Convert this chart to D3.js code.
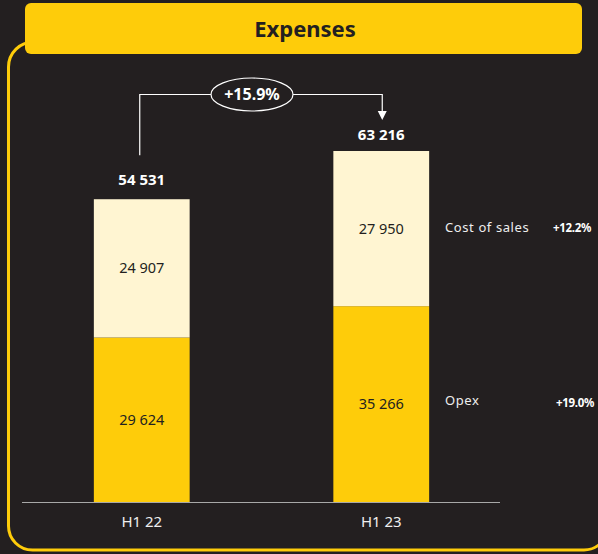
<!DOCTYPE html>
<html>
<head>
<meta charset="utf-8">
<script src="https://cdn.jsdelivr.net/npm/d3@7"></script>
<style>
  html, body { margin: 0; padding: 0; background: #231f20; }
  svg { display: block; font-family: "Noto Sans", Lato, sans-serif; }
</style>
</head>
<body>
<div id="chart"></div>
<script>
var periods = ["H1 22", "H1 23"];
var opex = [29624, 35266];
var costOfSales = [24907, 27950];
var seriesNames = ["Opex", "Cost of sales"];
var seriesGrowth = ["+19.0%", "+12.2%"];
var totalGrowth = "+15.9%";

var width = 598, height = 554;
var yellow = "#fecc0a", cream = "#fff5d2", bg = "#231f20";

var svg = d3.select("#chart")
    .append("svg")
    .attr("width", width)
    .attr("height", height);

svg.append("rect")
    .attr("width", width)
    .attr("height", height)
    .attr("fill", bg);

// yellow frame: left, bottom and the start of the right corner
svg.append("path")
    .attr("d", "M34,42A25,25 0 0 0 8.5,67V526A24,24 0 0 0 32.5,550H584A24,24 0 0 0 608,526")
    .attr("fill", "none")
    .attr("stroke", yellow)
    .attr("stroke-width", 3);

// title box
svg.append("rect")
    .attr("x", 25)
    .attr("y", 3)
    .attr("width", 557)
    .attr("height", 51)
    .attr("rx", 6)
    .attr("fill", yellow);

svg.append("text")
    .attr("x", 305)
    .attr("y", 37)
    .attr("text-anchor", "middle")
    .attr("font-size", 22)
    .attr("font-weight", "bold")
    .attr("fill", bg)
    .text("Expenses");

// data table for the stack
var table = periods.map(function(p, i) {
    return {period: p, opex: opex[i], cos: costOfSales[i]};
});
var stack = d3.stack().keys(["opex", "cos"])(table);
var totals = table.map(function(d) { return d.opex + d.cos; });

var x = d3.scaleBand()
    .domain(periods)
    .range([22, 501])
    .paddingInner(0.6)
    .paddingOuter(0.3);

var y = d3.scaleLinear()
    .domain([0, d3.max(totals)])
    .range([502, 151]);

var fmt = function(v) { return d3.format(",")(v).replace(/,/g, " "); };
var colors = [yellow, cream];

// bars
var layer = svg.selectAll(".layer")
    .data(stack)
    .enter()
    .append("g")
    .attr("class", "layer")
    .attr("fill", function(d, i) { return colors[i]; });

layer.selectAll("rect")
    .data(function(d) { return d; })
    .enter()
    .append("rect")
    .attr("x", function(d) { return x(d.data.period); })
    .attr("y", function(d) { return y(d[1]); })
    .attr("width", x.bandwidth())
    .attr("height", function(d) { return y(d[0]) - y(d[1]); });

layer.selectAll("text")
    .data(function(d) { return d; })
    .enter()
    .append("text")
    .attr("x", function(d) { return x(d.data.period) + x.bandwidth() / 2; })
    .attr("y", function(d) { return (y(d[0]) + y(d[1])) / 2 + 5; })
    .attr("text-anchor", "middle")
    .attr("font-size", 14.5)
    .attr("fill", bg)
    .text(function(d) { return fmt(d[1] - d[0]); });

// totals
svg.selectAll(".total")
    .data(table)
    .enter()
    .append("text")
    .attr("class", "total")
    .attr("x", function(d) { return x(d.period) + x.bandwidth() / 2; })
    .attr("y", function(d, i) { return y(totals[i]) - (i == 0 ? 14 : 11); })
    .attr("text-anchor", "middle")
    .attr("font-size", 15)
    .attr("font-weight", "bold")
    .attr("fill", "#fff")
    .text(function(d, i) { return fmt(totals[i]); });

// baseline
svg.append("line")
    .attr("x1", 22)
    .attr("x2", 500)
    .attr("y1", y(0) + 0.5)
    .attr("y2", y(0) + 0.5)
    .attr("stroke", "#a8a8a8")
    .attr("stroke-width", 1);

// x axis labels
svg.append("g")
    .attr("transform", "translate(0," + y(0) + ")")
    .call(d3.axisBottom(x).tickSize(0).tickPadding(14))
    .call(function(g) { g.select(".domain").remove(); })
    .selectAll("text")
    .attr("font-size", 15)
    .attr("font-family", "Noto Sans, sans-serif")
    .attr("fill", "#eee");

// growth connector
var c1 = x(periods[0]) + x.bandwidth() / 2 - 2;
var c2 = x(periods[1]) + x.bandwidth() / 2 + 1;
var ly = 94.5, ex = 252, rx = 41, ry = 16.5;

svg.append("path")
    .attr("d", "M" + c1 + "," + (y(totals[0]) - 44) + "V" + ly + "H" + (ex - rx))
    .attr("fill", "none")
    .attr("stroke", "#fff")
    .attr("stroke-width", 1.2);

svg.append("path")
    .attr("d", "M" + (ex + rx) + "," + ly + "H" + c2 + "V" + 112)
    .attr("fill", "none")
    .attr("stroke", "#fff")
    .attr("stroke-width", 1.2);

svg.append("path")
    .attr("d", "M" + (c2 - 4.5) + ",111L" + (c2 + 4.5) + ",111L" + c2 + ",120Z")
    .attr("fill", "#fff");

svg.append("ellipse")
    .attr("cx", ex)
    .attr("cy", ly)
    .attr("rx", rx)
    .attr("ry", ry)
    .attr("fill", bg)
    .attr("stroke", "#fff")
    .attr("stroke-width", 1.2);

svg.append("text")
    .attr("x", ex)
    .attr("y", ly + 5.5)
    .attr("text-anchor", "middle")
    .attr("font-size", 16)
    .attr("font-weight", "bold")
    .attr("fill", "#fff")
    .text(totalGrowth);

// legend beside the second bar
var legendY = [401, 228];

seriesNames.forEach(function(name, i) {
    svg.append("text")
        .attr("x", 445)
        .attr("y", legendY[i] + 4)
        .attr("font-size", 13)
        .attr("letter-spacing", 0.6)
        .attr("fill", "#eee")
        .text(name);
    svg.append("text")
        .attr("x", i == 0 ? 594 : 591)
        .attr("y", legendY[i] + (i == 0 ? 6 : 4))
        .attr("text-anchor", "end")
        .attr("font-size", 11.5)
        .attr("font-weight", "bold")
        .attr("letter-spacing", -0.3)
        .attr("fill", "#fff")
        .text(seriesGrowth[i]);
});
</script>
</body>
</html>
